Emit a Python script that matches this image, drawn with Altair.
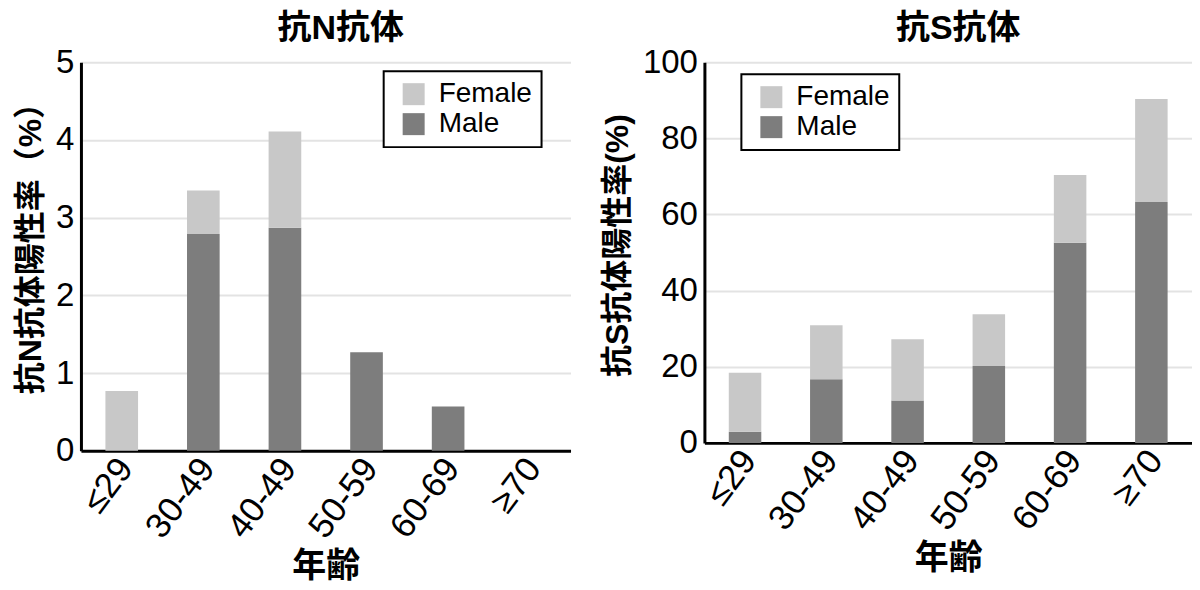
import altair as alt
import pandas as pd

ages = ["≤29", "30-49", "40-49", "50-59", "60-69", "≥70"]
sexes = ["Female", "Male"]
n_male = [0.0, 2.79, 2.87, 1.27, 0.57, 0.0]
n_female = [0.77, 0.56, 1.24, 0.0, 0.0, 0.0]
s_male = [2.9, 16.7, 11.1, 20.2, 52.6, 63.3]
s_female = [15.5, 14.2, 16.1, 13.6, 17.8, 27.0]

FONT = "Liberation Sans, Arial, Noto Sans CJK JP"
COLORS = ["#c8c8c8", "#7d7d7d"]


def make_df(male, female):
    rows = []
    for a, m, f in zip(ages, male, female):
        rows.append({"age": a, "sex": "Male", "value": m, "ord": 0})
        rows.append({"age": a, "sex": "Female", "value": f, "ord": 1})
    return pd.DataFrame(rows)


def panel(df, title, ytitle, ymax, yvals, w, h, lx, ly, tdx, ty):
    return (
        alt.Chart(df)
        .mark_bar()
        .encode(
            x=alt.X(
                "age:N",
                sort=ages,
                scale=alt.Scale(paddingInner=0.6, paddingOuter=0.3),
                axis=alt.Axis(
                    title="年齢",
                    labelAngle=-53,
                    labelAlign="right",
                    labelBaseline="middle",
                    labelFontSize=35,
                    labelPadding=11,
                    labelOffset=4,
                    titleFontSize=34,
                    titleFontWeight="bold",
                    titlePadding=5,
                    ticks=False,
                    grid=False,
                    domainColor="black",
                    domainWidth=3,
                ),
            ),
            y=alt.Y(
                "value:Q",
                stack="zero",
                scale=alt.Scale(domain=[0, ymax], nice=False),
                axis=alt.Axis(
                    title=ytitle,
                    values=yvals,
                    labelFontSize=33,
                    labelPadding=7,
                    titleFontSize=32,
                    titleFontWeight="bold",
                    titlePadding=8,
                    titleY=ty,
                    ticks=False,
                    grid=True,
                    gridColor="#e3e3e3",
                    gridWidth=2,
                    domainColor="black",
                    domainWidth=3,
                ),
            ),
            color=alt.Color(
                "sex:N",
                scale=alt.Scale(domain=sexes, range=COLORS),
                legend=alt.Legend(
                    title=None,
                    orient="none",
                    legendX=lx,
                    legendY=ly,
                    symbolType="square",
                    symbolSize=484,
                    symbolStrokeWidth=0,
                    symbolOffset=7,
                    labelFontSize=28,
                    labelOffset=11,
                    rowPadding=2,
                    padding=9,
                    strokeColor="black",
                    fillColor="white",
                ),
            ),
            order=alt.Order("ord:Q"),
        )
        .properties(
            width=w,
            height=h,
            title=alt.Title(title, fontSize=34, fontWeight="bold", offset=0, dx=tdx),
        )
    )


left = panel(make_df(n_male, n_female), "抗N抗体", "抗N抗体陽性率（%）", 5,
             [0, 1, 2, 3, 4, 5], 490, 389, 303, 9, 15, 178)
right = panel(make_df(s_male, s_female), "抗S抗体", "抗S抗体陽性率(%)", 100,
              [0, 20, 40, 60, 80, 100], 488, 381, 37, 12, 10, 183)

chart = (
    alt.hconcat(left, right, spacing=30)
    .resolve_scale(color="independent", y="independent")
    .properties(padding={"left": 6, "top": 4, "right": 0, "bottom": 0})
    .configure(font=FONT)
    .configure_view(stroke=None)
    .configure_axis(labelColor="black", titleColor="black")
    .configure_title(color="black", anchor="middle")
    .configure_legend(labelColor="black", strokeWidth=2)
)

chart.save("out.html", embed_options={"renderer": "svg", "actions": False})
